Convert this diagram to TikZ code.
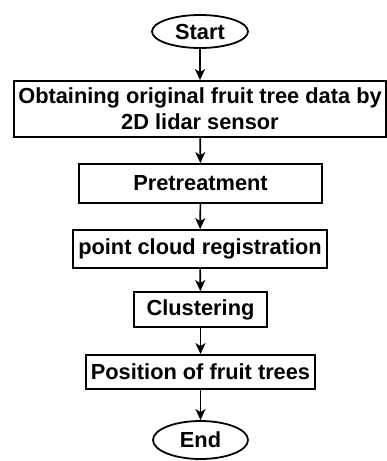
\documentclass[tikz,border=0pt]{standalone}
\usepackage{fontspec}
\setmainfont{Liberation Sans}
\usetikzlibrary{shapes.geometric,arrows.meta}

\tikzset{
	stepbox/.style={draw, line width=1.8pt, inner sep=0pt, align=center,
		font=\fontsize{21.8}{26}\selectfont\bfseries},
	terminal/.style={stepbox, ellipse},
	flow/.style={line width=1.6pt, -{Stealth[length=11pt, width=10pt, inset=3pt]}}
}

\begin{document}
\begin{tikzpicture}[x=1pt, y=-1pt]
			\useasboundingbox (0,0) rectangle (387,461);
			\node[terminal, minimum width=96pt, minimum height=33pt] (start) at (200,31.5) {Start};
			\node[stepbox, minimum width=372pt, minimum height=56pt] (obtain) at (200,109)
			{Obtaining original fruit tree data by\\2D lidar sensor};
			\node[stepbox, minimum width=243pt, minimum height=39pt] (pretreat) at (200.5,183.5) {Pretreatment};
			\node[stepbox, minimum width=254pt, minimum height=38pt] (regist) at (200,249) {point cloud registration};
			\node[stepbox, minimum width=133pt, minimum height=35pt] (cluster) at (200.5,309.5) {Clustering};
			\node[stepbox, minimum width=229pt, minimum height=34pt] (position) at (200.5,372) {Position of fruit trees};
			\node[terminal, minimum width=95pt, minimum height=38pt] (finish) at (200.5,440) {End};
			\draw [flow] (start) -- (obtain);
			\draw [flow] (obtain) -- (pretreat);
			\draw [flow] (pretreat) -- (regist);
			\draw [flow] (regist) -- (cluster);
			\draw [flow] (cluster) -- (position);
			\draw [flow] (position) -- (finish);
		\end{tikzpicture}
\end{document}
